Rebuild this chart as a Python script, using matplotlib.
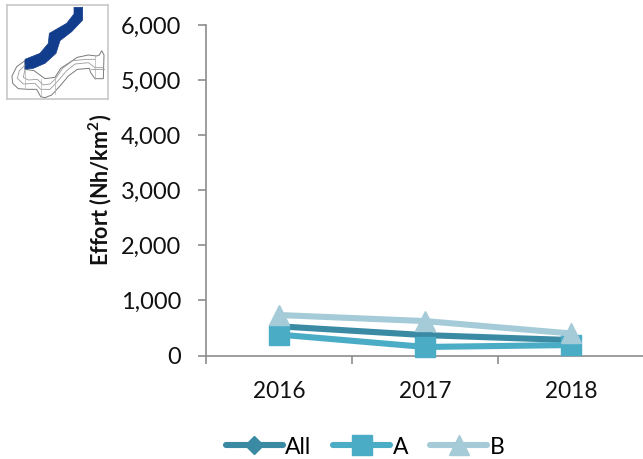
import matplotlib
matplotlib.use("Agg")
import matplotlib.pyplot as plt
from matplotlib.patches import Polygon

plt.rcParams['font.family'] = ['Lato', 'DejaVu Sans']

years = ['2016', '2017', '2018']
series_all = [530, 370, 280]
series_a = [380, 155, 190]
series_b = [735, 625, 400]
y_ticks = [0, 1000, 2000, 3000, 4000, 5000, 6000]

C_ALL, C_A, C_B = '#3A8AA3', '#4BACC6', '#A5CBD9'
GREY = '#8C8C8C'

W, H = 643, 459
fig = plt.figure(figsize=(W/100, H/100), dpi=100)
ax = fig.add_axes([206/W, 1-355.5/H, 438/W, 330.5/H])
x = range(len(years))
for vals, col, mk, ms, lab in [(series_all, C_ALL, 'D', 9.5, 'All'),
                               (series_a, C_A, 's', 14, 'A'),
                               (series_b, C_B, '^', 14.5, 'B')]:
    ax.plot(x, vals, color=col, lw=4.4, marker=mk, ms=ms, mec=col, label=lab,
            solid_capstyle='round', clip_on=False, zorder=3)
ax.set_xlim(-0.5, 2.5)
ax.set_ylim(0, 6000)
ax.set_yticks(y_ticks)
ax.set_yticklabels([f'{v:,}' for v in y_ticks], fontsize=17, color='#111111')
ax.set_xticks([-0.5, 0.5, 1.5, 2.5])
ax.set_xticklabels([])
ax.set_xticks(list(x), minor=True)
ax.set_xticklabels(years, minor=True, fontsize=16.3, color='#111111')
ax.tick_params(axis='x', which='minor', length=0, pad=18)
ax.tick_params(axis='x', which='major', length=6, width=1.2, color=GREY, direction='out')
ax.tick_params(axis='y', length=6, width=1.2, color=GREY, pad=12)
for s in ['top', 'right']:
    ax.spines[s].set_visible(False)
for s in ['left', 'bottom']:
    ax.spines[s].set_color(GREY)
    ax.spines[s].set_linewidth(1.2)
fig.text(100/W, 1-190/H, 'Effort (Nh/km$\\mathregular{^2}$)', rotation=90, fontsize=15.5,
         fontweight='bold', ha='center', va='center', color='#111111')

handles, labels = ax.get_legend_handles_labels()
fig.legend(handles, labels, loc='center', bbox_to_anchor=(365/W, 1-447/H), ncol=3, frameon=False,
           fontsize=16.5, handlelength=2.5, columnspacing=0.95, handletextpad=0.1)

# inset locator map (coordinates in the zoomed crop's pixel grid)
inset = fig.add_axes([7/W, 1-99/H, 101/W, 94/H])
inset.set_xlim(21, 324)
inset.set_ylim(297, 15)
inset.set_xticks([])
inset.set_yticks([])
for s in inset.spines.values():
    s.set_color('#C8C8C8')
    s.set_linewidth(1.2)
outer_x = [75, 50, 36, 38, 55, 85, 110, 122, 135, 155, 180, 205, 232, 268, 272, 285, 310, 312, 305, 298, 290, 265, 232, 205, 182, 165, 135, 102, 75]
outer_y = [182, 200, 228, 250, 266, 268, 268, 290, 293, 285, 258, 228, 208, 205, 218, 236, 236, 165, 152, 165, 168, 165, 172, 190, 205, 232, 236, 212, 208]
inset.add_patch(Polygon(list(zip(outer_x, outer_y)), closed=True, fc='white', ec='#7A7A7A', lw=0.7))
inner1_x = [75, 58, 52, 70, 105, 122, 150, 172, 200, 225, 265, 285, 310]
inner1_y = [195, 212, 235, 252, 250, 268, 268, 245, 212, 192, 188, 203, 203]
inner2_x = [75, 70, 85, 112, 130, 150, 165, 188, 218, 262, 285]
inner2_y = [208, 232, 240, 238, 255, 252, 238, 205, 182, 178, 178]
inset.plot(inner1_x, inner1_y, color='#9A9A9A', lw=0.6)
inset.plot(inner2_x, inner2_y, color='#9A9A9A', lw=0.6)
for gx, gy0, gy1 in [(75, 208, 262), (122, 238, 290), (165, 232, 282), (285, 165, 236)]:
    inset.plot([gx, gx], [gy0, gy1], color='#B0B0B0', lw=0.5)
inset.plot([272, 312], [208, 208], color='#9A9A9A', lw=0.6)
band_x = [222, 248, 248, 215, 180, 168, 135, 100, 75, 75, 120, 145, 148, 200, 222]
band_y = [22, 22, 60, 95, 122, 160, 190, 205, 208, 178, 160, 130, 100, 70, 42]
inset.add_patch(Polygon(list(zip(band_x, band_y)), closed=True, fc='#123C8C', ec='#123C8C', lw=0.5))

fig.savefig('out.png', dpi=100)
